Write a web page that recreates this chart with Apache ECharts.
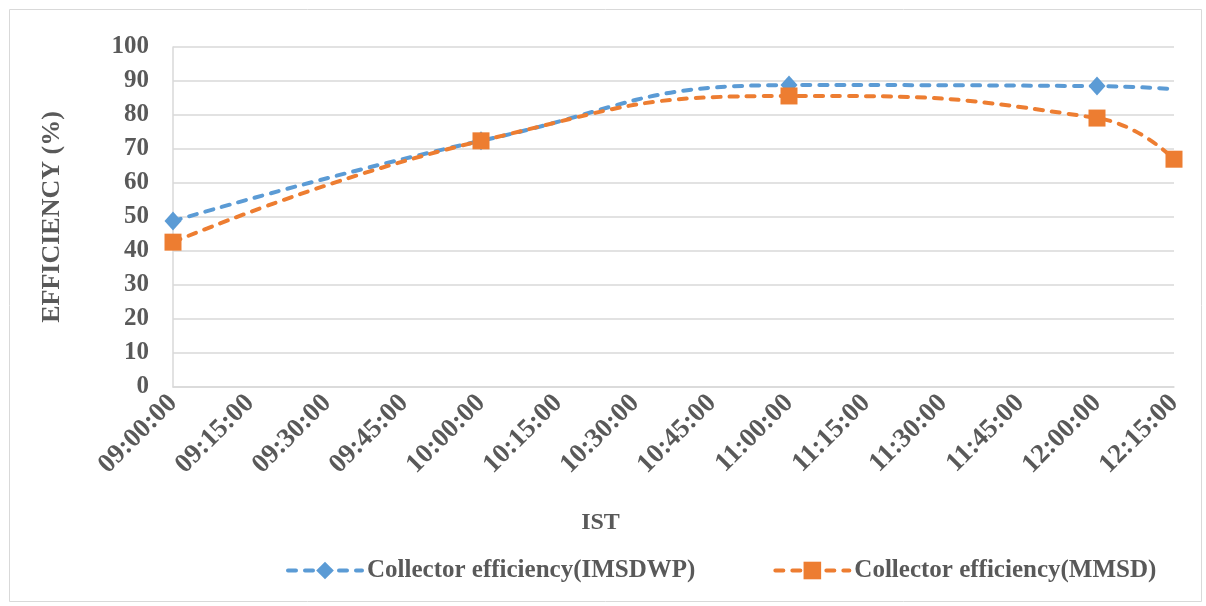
<!DOCTYPE html>
<html>
<head>
<meta charset="utf-8">
<style>
  html, body { margin: 0; padding: 0; background: #fff; }
  #chart { width: 1206px; height: 606px; }
</style>
<script src="https://cdn.jsdelivr.net/npm/echarts@6/dist/echarts.min.js"></script>
</head>
<body>
<div id="chart"></div>
<script>
// Times of day in minutes after midnight (09:00 = 540)
const times = [540, 600, 660, 720, 735];
// Collector efficiency (%) at each time
const imsdwp = [48.8, 72.4, 88.8, 88.5, 87.6];
const mmsd = [42.6, 72.4, 85.6, 79.1, 67.0];
const seriesNames = ['Collector efficiency(IMSDWP)', 'Collector efficiency(MMSD)'];

const serif = '"Liberation Serif", "Times New Roman", serif';
const textColor = '#595959';
const dash = [8, 9];

function timeLabel(m) {
  const h = Math.floor(m / 60), mm = m % 60;
  return String(h).padStart(2, '0') + ':' + String(mm).padStart(2, '0') + ':00';
}

const chart = echarts.init(document.getElementById('chart'));
chart.setOption({
  animation: false,
  graphic: [{
    type: 'rect', left: 7, top: 7,
    shape: { width: 1192, height: 592 },
    style: { fill: 'none', stroke: '#d9d9d9', lineWidth: 1 }
  }],
  grid: { left: 173, right: 32, top: 47, bottom: 219 },
  legend: {
    left: 281, top: 553,
    itemWidth: 74, itemHeight: 22, itemGap: 78,
    lineStyle: { width: 4, type: dash, cap: 'round' },
    textStyle: { fontFamily: serif, fontWeight: 'bold', fontSize: 25, color: textColor },
    data: seriesNames
  },
  xAxis: {
    type: 'value', min: 540, max: 735, interval: 15,
    name: 'IST', nameLocation: 'middle', nameGap: 124,
    nameTextStyle: {
      fontFamily: serif, fontWeight: 'bold', fontSize: 24, color: textColor,
      padding: [0, 146, 0, 0]
    },
    axisLine: { show: true, lineStyle: { color: '#d9d9d9', width: 1.5 } },
    axisTick: { show: false },
    splitLine: { show: false },
    axisLabel: {
      rotate: 45, margin: 12, formatter: timeLabel,
      fontFamily: serif, fontWeight: 'bold', fontSize: 27, color: textColor
    }
  },
  yAxis: {
    type: 'value', min: 0, max: 100, interval: 10,
    name: 'EFFICIENCY (%)', nameLocation: 'middle', nameGap: 108,
    nameTextStyle: { fontFamily: serif, fontWeight: 'bold', fontSize: 26, color: textColor },
    axisLine: { show: true, lineStyle: { color: '#d9d9d9', width: 1.5 } },
    axisTick: { show: false },
    splitLine: { lineStyle: { color: '#d9d9d9', width: 1.5 } },
    axisLabel: { margin: 24, fontFamily: serif, fontWeight: 'bold', fontSize: 25, color: textColor }
  },
  series: [
    {
      name: seriesNames[0], type: 'line', smooth: 0.5,
      data: times.map((t, i) => i === times.length - 1
        ? { value: [t, imsdwp[i]], symbol: 'none' }
        : [t, imsdwp[i]]),
      symbol: 'diamond', symbolSize: [17, 19],
      itemStyle: { color: '#5b9bd5' },
      lineStyle: { color: '#5b9bd5', width: 4, type: dash, cap: 'round' }
    },
    {
      name: seriesNames[1], type: 'line', smooth: 0.5,
      data: times.map((t, i) => [t, mmsd[i]]),
      symbol: 'rect', symbolSize: 17,
      itemStyle: { color: '#ed7d31' },
      lineStyle: { color: '#ed7d31', width: 4, type: dash, cap: 'round' }
    }
  ]
});
</script>
</body>
</html>
